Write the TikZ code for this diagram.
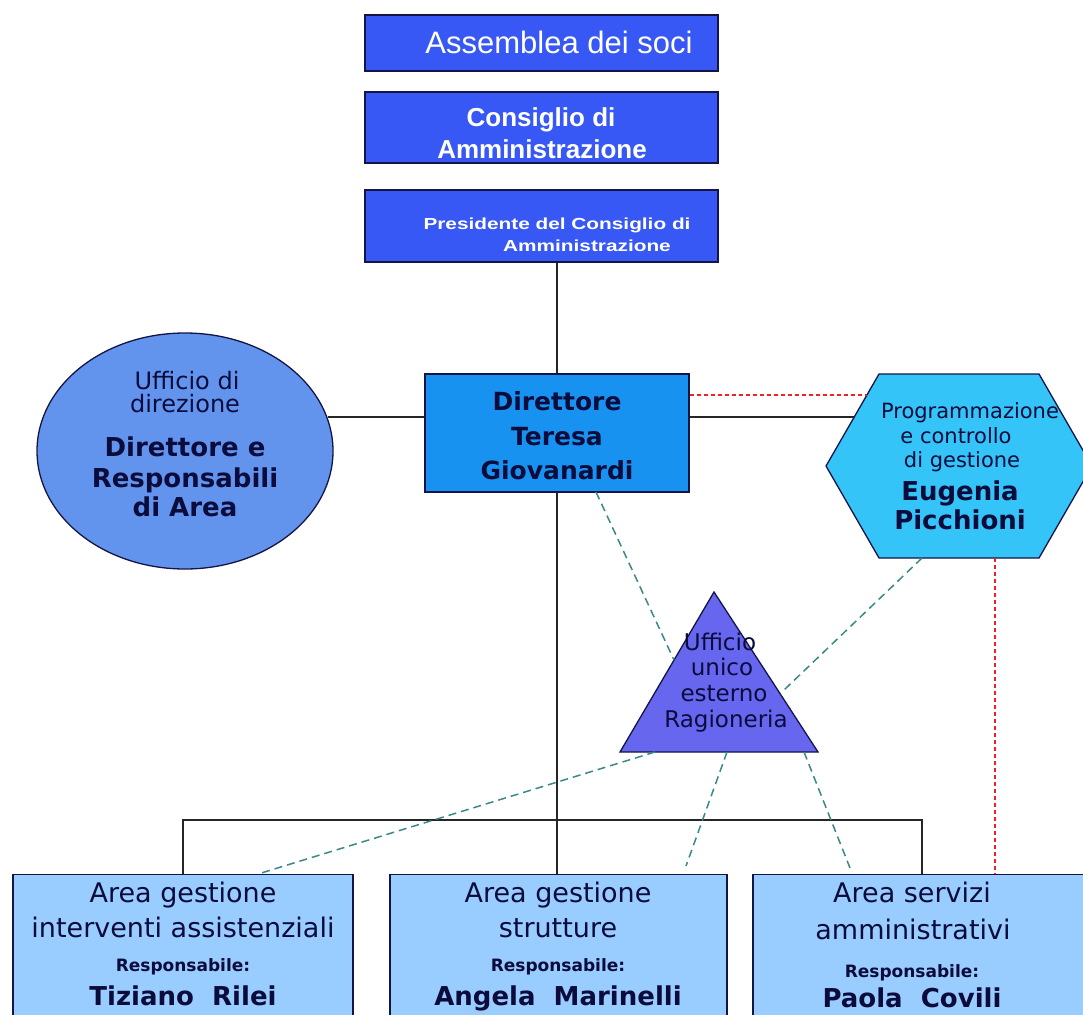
\documentclass[tikz,border=0pt]{standalone}
\usepackage{fontspec}
\setmainfont{DejaVu Sans}
\newfontfamily\arialf{Liberation Sans}
\newfontfamily\arialw[FakeStretch=1.3]{Liberation Sans}
\usetikzlibrary{shapes.geometric}
\definecolor{topblue}{RGB}{56,88,245}
\definecolor{dirblue}{RGB}{24,146,240}
\definecolor{ellblue}{RGB}{98,148,238}
\definecolor{hexblue}{RGB}{52,196,248}
\definecolor{triblue}{RGB}{102,102,238}
\definecolor{areablue}{RGB}{153,204,255}
\definecolor{inknavy}{RGB}{12,12,60}
\definecolor{edgenavy}{RGB}{20,20,70}
\definecolor{dashteal}{RGB}{60,135,135}
\definecolor{dashred}{RGB}{235,35,35}
\begin{document}
\begin{tikzpicture}[x=1pt,y=-1pt,
  frame/.style={draw=edgenavy, line width=1.3pt},
  boxshape/.style={frame, rectangle, inner sep=0pt},
  toptext/.style={inner sep=0pt, anchor=base, text=white, font=\arialf},
  darktext/.style={inner sep=0pt, anchor=base, text=inknavy},
  solidlink/.style={draw=black!85, line width=1.2pt},
  tealdash/.style={draw=dashteal, line width=1.5pt, dash pattern=on 8pt off 5pt},
  reddash/.style={draw=dashred, line width=1.3pt, dash pattern=on 4pt off 3pt}]
\useasboundingbox[fill=white] (0,0) rectangle (1083,1014);

% ---------- top boxes ----------
\node[boxshape, fill=topblue, minimum width=353pt, minimum height=56pt] (asm) at (541.5,43) {};
\node[toptext, font=\arialf\fontsize{31}{34}\selectfont] (asmt) at (559,54) {Assemblea dei soci};

\node[boxshape, fill=topblue, minimum width=353pt, minimum height=71pt] (cda) at (541.5,127.5) {};
\node[toptext, font=\arialf\bfseries\fontsize{26}{30}\selectfont] (cdat1) at (541,126) {Consiglio di};
\node[toptext, font=\arialf\bfseries\fontsize{26}{30}\selectfont] (cdat2) at (542,158) {Amministrazione};

\node[boxshape, fill=topblue, minimum width=353pt, minimum height=72pt] (pres) at (541.5,226) {};
\node[toptext, font=\arialw\bfseries\fontsize{16}{20}\selectfont] (prest1) at (557,229) {Presidente del Consiglio di};
\node[toptext, font=\arialw\bfseries\fontsize{16}{20}\selectfont] (prest2) at (587,251) {Amministrazione};

% ---------- Direttore ----------
\node[boxshape, fill=dirblue, minimum width=264pt, minimum height=118pt] (dir) at (557,433) {};
\node[darktext, font=\bfseries\fontsize{25}{30}\selectfont] (dirt1) at (557,410) {Direttore};
\node[darktext, font=\bfseries\fontsize{25}{30}\selectfont] (dirt2) at (557,445) {Teresa};
\node[darktext, font=\bfseries\fontsize{25}{30}\selectfont] (dirt3) at (557,479) {Giovanardi};

% ---------- Ufficio di direzione (ellipse) ----------
\node[frame, ellipse, fill=ellblue, minimum width=296pt, minimum height=236pt, inner sep=0pt] (ell) at (185,451) {};
\coordinate (ellE) at (327.6,417);
\node[darktext, font=\fontsize{24}{28}\selectfont] (ellt1) at (187,389) {Ufficio di};
\node[darktext, font=\fontsize{24}{28}\selectfont] (ellt2) at (185,412) {direzione};
\node[darktext, font=\bfseries\fontsize{26}{30}\selectfont] (ellt3) at (185,456) {Direttore e};
\node[darktext, font=\bfseries\fontsize{26}{30}\selectfont] (ellt4) at (185,487) {Responsabili};
\node[darktext, font=\bfseries\fontsize{26}{30}\selectfont] (ellt5) at (185,516) {di Area};

% ---------- Programmazione (hexagon) ----------
\coordinate (hxL) at (826,466);
\coordinate (hxTL) at (879,374);
\coordinate (hxTR) at (1039,374);
\coordinate (hxR) at (1092,466);
\coordinate (hxBR) at (1039,558);
\coordinate (hxBL) at (879,558);
\draw[frame, fill=hexblue] (hxL) -- (hxTL) -- (hxTR) -- (hxR) -- (hxBR) -- (hxBL) -- cycle;
\coordinate (hxE417) at (854,417);
\coordinate (hxE395) at (867,395);
\coordinate (hxBdash) at (922,558);
\coordinate (hxBred) at (995,558);
\node[darktext, font=\fontsize{21}{25}\selectfont] (hext1) at (970,418) {Programmazione};
\node[darktext, font=\fontsize{21}{25}\selectfont] (hext2) at (956,443) {e controllo};
\node[darktext, font=\fontsize{21}{25}\selectfont] (hext3) at (962,467) {di gestione};
\node[darktext, font=\bfseries\fontsize{26}{30}\selectfont] (hext4) at (960,500) {Eugenia};
\node[darktext, font=\bfseries\fontsize{26}{30}\selectfont] (hext5) at (960,529) {Picchioni};

% ---------- Ufficio unico esterno (triangle) ----------
\coordinate (trA) at (714,592);
\coordinate (trL) at (620,752);
\coordinate (trR) at (818,752);
\draw[frame, fill=triblue] (trA) -- (trR) -- (trL) -- cycle;
\node[darktext, font=\fontsize{23}{26}\selectfont] (trit1) at (720,650) {Ufficio};
\node[darktext, font=\fontsize{23}{26}\selectfont] (trit2) at (722,675) {unico};
\node[darktext, font=\fontsize{23}{26}\selectfont] (trit3) at (724,701) {esterno};
\node[darktext, font=\fontsize{23}{26}\selectfont] (trit4) at (726,727) {Ragioneria};
\coordinate (trLedge) at (674,660);
\coordinate (trRedge) at (784,690);
\coordinate (trB1) at (655,752);
\coordinate (trB2) at (727,752);
\coordinate (trB3) at (804,752);

% ---------- bottom area boxes ----------
\node[boxshape, fill=areablue, minimum width=340pt, minimum height=160pt, anchor=north] (tiz) at (183,874) {};
\node[boxshape, fill=areablue, minimum width=337pt, minimum height=160pt, anchor=north] (ang) at (558.5,874) {};
\node[boxshape, fill=areablue, minimum width=338pt, minimum height=160pt, anchor=north] (pao) at (922,874) {};

\node[darktext, font=\fontsize{27}{30}\selectfont] (tizt1) at (183,902) {Area gestione};
\node[darktext, font=\fontsize{27}{30}\selectfont] (tizt2) at (183,937) {interventi assistenziali};
\node[darktext, font=\bfseries\fontsize{17}{20}\selectfont] (tizt3) at (183,971) {Responsabile:};
\node[darktext, font=\bfseries\fontsize{26}{30}\selectfont] (tizt4) at (183,1005) {Tiziano\ \ Rilei};

\node[darktext, font=\fontsize{27}{30}\selectfont] (angt1) at (558,902) {Area gestione};
\node[darktext, font=\fontsize{27}{30}\selectfont] (angt2) at (558,937) {strutture};
\node[darktext, font=\bfseries\fontsize{17}{20}\selectfont] (angt3) at (558,971) {Responsabile:};
\node[darktext, font=\bfseries\fontsize{26}{30}\selectfont] (angt4) at (558,1005) {Angela\ \ Marinelli};

\node[darktext, font=\fontsize{27}{30}\selectfont] (paot1) at (912,902) {Area servizi};
\node[darktext, font=\fontsize{27}{30}\selectfont] (paot2) at (913,939) {amministrativi};
\node[darktext, font=\bfseries\fontsize{17}{20}\selectfont] (paot3) at (912,977) {Responsabile:};
\node[darktext, font=\bfseries\fontsize{26}{30}\selectfont] (paot4) at (912,1007) {Paola\ \ Covili};

% ---------- solid connectors ----------
\coordinate (bus) at (557,820);
\draw[solidlink] (pres.south -| dir.north) -- (dir.north);
\draw[solidlink] (dir.south) -- (dir.south |- ang.north);
\draw[solidlink] (tiz.north) -- (tiz.north |- bus) -- (bus -| pao.north) -- (pao.north);
\draw[solidlink] (ellE) -- ([yshift=16pt]dir.west);
\draw[solidlink] ([yshift=16pt]dir.east) -- (hxE417);

% ---------- red dashed ----------
\draw[reddash] ([yshift=38pt]dir.east) -- (hxE395);
\draw[reddash] (hxBred) -- (hxBred |- pao.north);

% ---------- teal dashed ----------
\coordinate (dirSd) at (596,492);
\coordinate (tizTd) at (258,874);
\coordinate (angTd) at (686,866);
\coordinate (paoTd) at (850,868);
\draw[tealdash] (dirSd) -- (trLedge);
\draw[tealdash] (hxBdash) -- (trRedge);
\draw[tealdash] (trB1) -- (tizTd);
\draw[tealdash] (trB2) -- (angTd);
\draw[tealdash] (trB3) -- (paoTd);
\end{tikzpicture}
\end{document}
